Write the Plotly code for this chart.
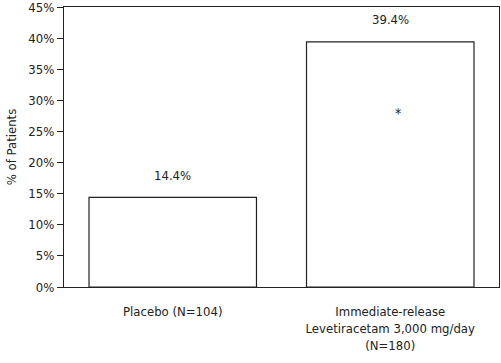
import plotly.graph_objects as go

categories = ["Placebo (N=104)", "Immediate-release<br>Levetiracetam 3,000 mg/day<br>(N=180)"]
values = [14.4, 39.4]
value_labels = ["14.4%", "39.4%"]
y_ticks = [0, 5, 10, 15, 20, 25, 30, 35, 40, 45]
y_tick_labels = [f"{v}%" for v in y_ticks]
star_y = 28

FONT = "DejaVu Sans Condensed, Liberation Sans Narrow, sans-serif"

fig = go.Figure()
fig.add_trace(go.Bar(
    x=categories, y=values,
    marker=dict(color="white", line=dict(color="#222", width=1.2)),
    width=0.77,
    hoverinfo="skip",
))

for c, v, t in zip(categories, values, value_labels):
    fig.add_annotation(x=c, y=v, text=t, showarrow=False, yshift=22,
                       font=dict(size=13, color="#222", family=FONT))
fig.add_annotation(x=categories[1], y=star_y, text="*", showarrow=False,
                   font=dict(size=14, color="#222", family=FONT), xshift=8)

fig.update_layout(
    width=501, height=363,
    margin=dict(l=64, r=2, t=7, b=76),
    paper_bgcolor="white", plot_bgcolor="white",
    showlegend=False,
    font=dict(family=FONT, size=13, color="#222"),
)
fig.update_yaxes(
    range=[0, 45], tickvals=y_ticks, ticktext=y_tick_labels,
    showgrid=False, zeroline=False, automargin=False,
    ticklabeloverflow="allow",
    showline=True, linecolor="#222", linewidth=1.2, mirror=True,
    ticks="outside", ticklen=6, tickcolor="#222",
    title=dict(text="% of Patients", standoff=8, font=dict(size=13)),
)
fig.update_xaxes(
    showgrid=False, showline=True, linecolor="#222", linewidth=1.2, mirror=True,
    ticks="", ticklabelstandoff=12, automargin=False,
)

fig.write_html("out.html", config={"displayModeBar": False},
               post_script="document.body.style.margin='0';document.body.style.overflow='hidden';")
